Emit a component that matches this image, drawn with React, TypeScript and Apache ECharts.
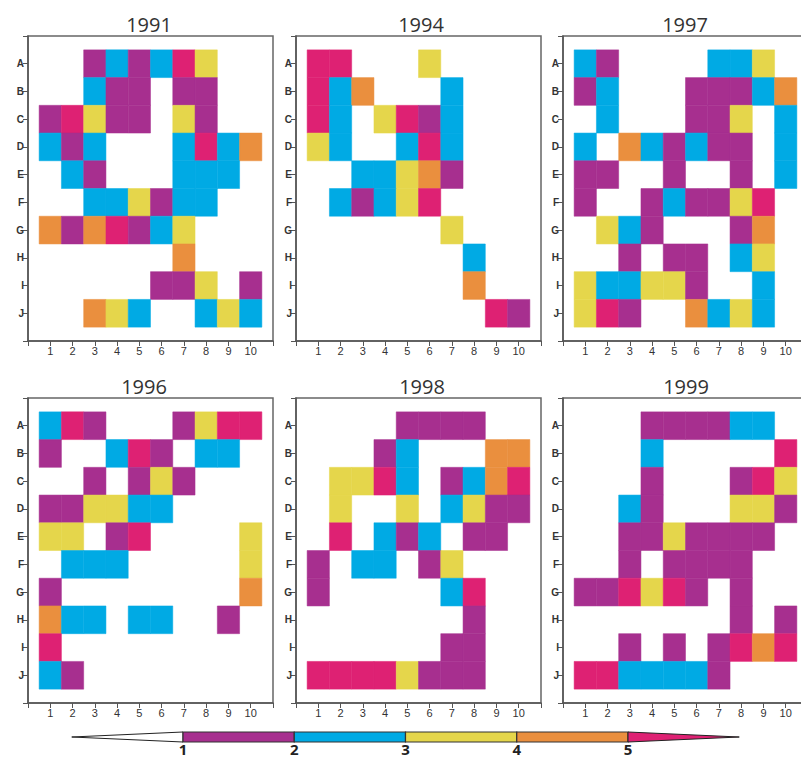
import React, { useEffect, useRef } from "react";
import * as echarts from "echarts";

const rowLabels = ["A", "B", "C", "D", "E", "F", "G", "H", "I", "J"];
const colLabels = ["1", "2", "3", "4", "5", "6", "7", "8", "9", "10"];
const levels = ["1", "2", "3", "4", "5"];
// class colours: 1 purple, 2 cyan, 3 yellow, 4 orange, 5 pink
const classColors = ["#a72f8f", "#00aae4", "#e5d64b", "#ea8f3e", "#de2173"];

const years = ["1991", "1994", "1997", "1996", "1998", "1999"];

const g1991 = [
  [0, 0, 1, 2, 1, 2, 5, 3, 0, 0],
  [0, 0, 2, 1, 1, 0, 1, 1, 0, 0],
  [1, 5, 3, 1, 1, 0, 3, 1, 0, 0],
  [2, 1, 2, 0, 0, 0, 2, 5, 2, 4],
  [0, 2, 1, 0, 0, 0, 2, 2, 2, 0],
  [0, 0, 2, 2, 3, 1, 2, 2, 0, 0],
  [4, 1, 4, 5, 1, 2, 3, 0, 0, 0],
  [0, 0, 0, 0, 0, 0, 4, 0, 0, 0],
  [0, 0, 0, 0, 0, 1, 1, 3, 0, 1],
  [0, 0, 4, 3, 2, 0, 0, 2, 3, 2],
];

const g1994 = [
  [5, 5, 0, 0, 0, 3, 0, 0, 0, 0],
  [5, 2, 4, 0, 0, 0, 2, 0, 0, 0],
  [5, 2, 0, 3, 5, 1, 2, 0, 0, 0],
  [3, 2, 0, 0, 2, 5, 2, 0, 0, 0],
  [0, 0, 2, 2, 3, 4, 1, 0, 0, 0],
  [0, 2, 1, 2, 3, 5, 0, 0, 0, 0],
  [0, 0, 0, 0, 0, 0, 3, 0, 0, 0],
  [0, 0, 0, 0, 0, 0, 0, 2, 0, 0],
  [0, 0, 0, 0, 0, 0, 0, 4, 0, 0],
  [0, 0, 0, 0, 0, 0, 0, 0, 5, 1],
];

const g1997 = [
  [2, 1, 0, 0, 0, 0, 2, 2, 3, 0],
  [1, 2, 0, 0, 0, 1, 1, 1, 2, 4],
  [0, 2, 0, 0, 0, 1, 1, 3, 0, 2],
  [2, 0, 4, 2, 1, 2, 1, 1, 0, 2],
  [1, 1, 0, 0, 1, 0, 0, 1, 0, 2],
  [1, 0, 0, 1, 2, 1, 1, 3, 5, 0],
  [0, 3, 2, 1, 0, 0, 0, 1, 4, 0],
  [0, 0, 1, 0, 1, 1, 0, 2, 3, 0],
  [3, 2, 2, 3, 3, 1, 0, 0, 2, 0],
  [3, 5, 1, 0, 0, 4, 2, 3, 2, 0],
];

const g1996 = [
  [2, 5, 1, 0, 0, 0, 1, 3, 5, 5],
  [1, 0, 0, 2, 5, 1, 0, 2, 2, 0],
  [0, 0, 1, 0, 1, 3, 1, 0, 0, 0],
  [1, 1, 3, 3, 2, 2, 0, 0, 0, 0],
  [3, 3, 0, 1, 5, 0, 0, 0, 0, 3],
  [0, 2, 2, 2, 0, 0, 0, 0, 0, 3],
  [1, 0, 0, 0, 0, 0, 0, 0, 0, 4],
  [4, 2, 2, 0, 2, 2, 0, 0, 1, 0],
  [5, 0, 0, 0, 0, 0, 0, 0, 0, 0],
  [2, 1, 0, 0, 0, 0, 0, 0, 0, 0],
];

const g1998 = [
  [0, 0, 0, 0, 1, 1, 1, 1, 0, 0],
  [0, 0, 0, 1, 2, 0, 0, 0, 4, 4],
  [0, 3, 3, 5, 2, 0, 1, 2, 4, 5],
  [0, 3, 0, 0, 3, 0, 2, 3, 1, 1],
  [0, 5, 0, 2, 1, 2, 0, 1, 1, 0],
  [1, 0, 2, 2, 0, 1, 3, 0, 0, 0],
  [1, 0, 0, 0, 0, 0, 2, 5, 0, 0],
  [0, 0, 0, 0, 0, 0, 0, 1, 0, 0],
  [0, 0, 0, 0, 0, 0, 1, 1, 0, 0],
  [5, 5, 5, 5, 3, 1, 1, 1, 0, 0],
];

const g1999 = [
  [0, 0, 0, 1, 1, 1, 1, 2, 2, 0],
  [0, 0, 0, 2, 0, 0, 0, 0, 0, 5],
  [0, 0, 0, 1, 0, 0, 0, 1, 5, 3],
  [0, 0, 2, 1, 0, 0, 0, 3, 3, 1],
  [0, 0, 1, 1, 3, 1, 1, 1, 1, 0],
  [0, 0, 1, 0, 1, 1, 1, 1, 0, 0],
  [1, 1, 5, 3, 5, 1, 0, 1, 0, 0],
  [0, 0, 0, 0, 0, 0, 0, 1, 0, 1],
  [0, 0, 1, 0, 1, 0, 1, 5, 4, 5],
  [5, 5, 2, 2, 2, 2, 1, 0, 0, 0],
];

const grids = [g1991, g1994, g1997, g1996, g1998, g1999];

// layout (pixels)
const panelLeft = [28, 296, 563, 28, 296, 563];
const panelTop = [36, 36, 36, 398, 398, 398];
const panelW = 245;
const panelH = 305;
const titleX = [144, 416, 680, 139, 417, 681];
const titleTop = [9, 9, 9, 371, 371, 371];

export default function App() {
  const ref = useRef<HTMLDivElement>(null);

  useEffect(() => {
    if (!ref.current) return;
    const chart = echarts.init(ref.current, null, { renderer: "svg" });

    const axisColor = "#555";

    const grid = grids.map((_, i) => ({
      left: panelLeft[i],
      top: panelTop[i],
      width: panelW,
      height: panelH,
      show: true,
      borderColor: "#666",
      borderWidth: 1.5,
      backgroundColor: "transparent",
      containLabel: false,
    }));

    const xAxis = grids.map((_, i) => ({
      gridIndex: i,
      type: "value",
      min: 0,
      max: 11,
      interval: 1,
      axisLine: { show: true, onZero: false, lineStyle: { color: axisColor, width: 1.5 } },
      axisTick: { show: true, length: 5, lineStyle: { color: axisColor, width: 1 } },
      axisLabel: {
        formatter: (v: number) => colLabels[v - 1] ?? "",
        fontSize: 11,
        color: "#333",
        margin: 4,
        fontFamily: "Liberation Sans",
      },
      splitLine: { show: false },
    }));

    const yAxis = grids.map((_, i) => ({
      gridIndex: i,
      type: "value",
      min: 0,
      max: 11,
      interval: 1,
      inverse: true,
      axisLine: { show: true, onZero: false, lineStyle: { color: axisColor, width: 1.5 } },
      axisTick: { show: true, length: 5, lineStyle: { color: axisColor, width: 1 } },
      axisLabel: {
        formatter: (v: number) => rowLabels[v - 1] ?? "",
        fontSize: 10,
        fontWeight: "bold",
        color: "#333",
        margin: 4,
        fontFamily: "Liberation Sans",
      },
      splitLine: { show: false },
    }));

    const series = grids.map((g, i) => {
      const data: number[][] = [];
      g.forEach((row, r) =>
        row.forEach((v, c) => {
          if (v > 0) data.push([c + 1, r + 1, v]);
        })
      );
      return {
        type: "custom",
        xAxisIndex: i,
        yAxisIndex: i,
        data,
        encode: { x: 0, y: 1 },
        renderItem: (params: any, api: any) => {
          const x = api.value(0);
          const y = api.value(1);
          const v = api.value(2);
          const p1 = api.coord([x - 0.5, y - 0.5]);
          const p2 = api.coord([x + 0.5, y + 0.5]);
          return {
            type: "rect",
            shape: {
              x: Math.min(p1[0], p2[0]),
              y: Math.min(p1[1], p2[1]),
              width: Math.abs(p2[0] - p1[0]),
              height: Math.abs(p2[1] - p1[1]),
            },
            style: { fill: classColors[v - 1], stroke: classColors[v - 1], lineWidth: 0.5 },
          };
        },
      };
    });

    const title = years.map((y, i) => ({
      text: y,
      left: titleX[i],
      top: titleTop[i],
      textAlign: "center",
      textStyle: { fontSize: 20, fontWeight: "normal", color: "#333", fontFamily: "Open Sans" },
    }));

    // colour-bar legend
    const lx0 = 183;
    const unit = 111.25;
    const cy = 737;
    const hh = 5;
    const graphic: any[] = [];
    graphic.push({
      type: "polygon",
      shape: { points: [[lx0 - unit, cy], [lx0, cy - hh], [lx0, cy + hh]] },
      style: { fill: "#fff", stroke: "#222", lineWidth: 1 },
    });
    for (let k = 0; k < 4; k++) {
      graphic.push({
        type: "rect",
        shape: { x: lx0 + k * unit, y: cy - hh, width: unit, height: hh * 2 },
        style: { fill: classColors[k], stroke: "#333", lineWidth: 1.2 },
      });
    }
    graphic.push({
      type: "polygon",
      shape: { points: [[lx0 + 4 * unit, cy - hh], [lx0 + 5 * unit, cy], [lx0 + 4 * unit, cy + hh]] },
      style: { fill: classColors[4], stroke: "#222", lineWidth: 1 },
    });
    levels.forEach((t, k) => {
      graphic.push({
        type: "text",
        x: lx0 + k * unit,
        y: 741,
        style: {
          text: t,
          fill: "#222",
          font: "bold 15px 'Open Sans'",
          textAlign: "center",
          textVerticalAlign: "top",
        },
      });
    });

    chart.setOption({
      animation: false,
      backgroundColor: "#fff",
      title,
      grid,
      xAxis,
      yAxis,
      series,
      graphic,
    } as any);

    return () => chart.dispose();
  }, []);

  return (
    <div
      style={{
        position: "absolute",
        left: 0,
        top: 0,
        width: 801,
        height: 759,
        overflow: "hidden",
      }}
    >
      <div ref={ref} style={{ width: 830, height: 759 }} />
    </div>
  );
}
